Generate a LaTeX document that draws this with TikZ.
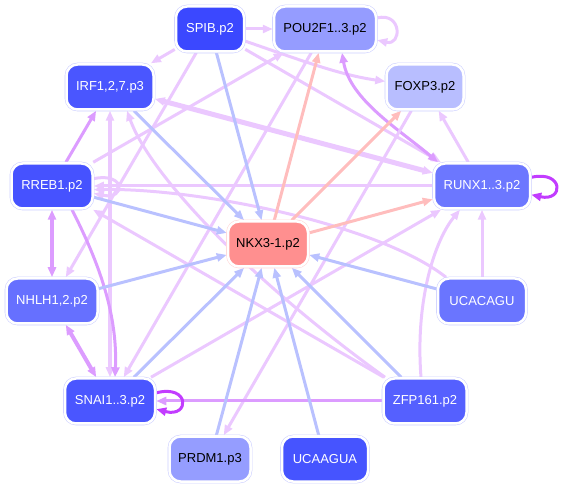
\documentclass[tikz,border=0pt]{standalone}
\usepackage{fontspec}
\setmainfont{Liberation Sans}
\usetikzlibrary{arrows.meta}
\pgfdeclarelayer{bg}
\pgfsetlayers{bg,main}
\definecolor{ndline}{HTML}{CDD0FF}
\definecolor{ndlinep}{HTML}{FFD6D6}
\definecolor{cSPIB}{HTML}{3B48FF}
\definecolor{cPOU}{HTML}{959CFF}
\definecolor{cIRF}{HTML}{4A56FF}
\definecolor{cFOX}{HTML}{B8BEFF}
\definecolor{cRREB}{HTML}{4652FF}
\definecolor{cRUNX}{HTML}{6C77FF}
\definecolor{cNKX}{HTML}{FF8F8F}
\definecolor{cNHLH}{HTML}{6670FF}
\definecolor{cUCAC}{HTML}{6A75FF}
\definecolor{cSNAI}{HTML}{4A56FF}
\definecolor{cZFP}{HTML}{5560FF}
\definecolor{cPRDM}{HTML}{959DFF}
\definecolor{cUCAA}{HTML}{4654FF}
\definecolor{elp}{HTML}{EBC8FF}
\definecolor{emp}{HTML}{DC9CFF}
\definecolor{esp}{HTML}{C23CFF}
\definecolor{elb}{HTML}{B9C1FF}
\definecolor{epk}{HTML}{FFBDBD}
\begin{document}
\begin{tikzpicture}[x=1pt,y=-1pt,
  >={Triangle[length=10pt,width=8pt]},
  nd/.style={rectangle, rounded corners=11pt, minimum height=45pt, inner sep=0pt,
    draw=white, line width=2.5pt, preaction={draw=#1, line width=3.6pt},
    font=\fontsize{13}{15}\selectfont, text=white},
  nd/.default=ndline,
  lp/.style={draw=elp, line width=3pt},
  mp/.style={draw=emp, line width=3pt},
  sp/.style={draw=esp, line width=3pt},
  lb/.style={draw=elb, line width=3pt},
  pk/.style={draw=epk, line width=3pt}]
\useasboundingbox (0,0) rectangle (563,489);

\node[nd, fill=cSPIB, minimum width=68pt] (spib) at (210,29) {SPIB.p2};
\node[nd, fill=cPOU, minimum width=102pt, text=black] (pou) at (325,29) {POU2F1..3.p2};
\node[nd, fill=cIRF, minimum width=87pt] (irf) at (110,87) {IRF1,2,7.p3};
\node[nd, fill=cFOX, minimum width=77pt, text=black] (fox) at (425,87) {FOXP3.p2};
\node[nd, fill=cRREB, minimum width=81pt] (rreb) at (52,186) {RREB1.p2};
\node[nd, fill=cRUNX, minimum width=96pt] (runx) at (482,186) {RUNX1..3.p2};
\node[nd=ndlinep, fill=cNKX, minimum width=80pt, text=black] (nkx) at (268,244) {NKX3-1.p2};
\node[nd, fill=cNHLH, minimum width=91pt] (nhlh) at (52,301) {NHLH1,2.p2};
\node[nd, fill=cUCAC, minimum width=88pt] (ucac) at (482,301) {UCACAGU};
\node[nd, fill=cSNAI, minimum width=90pt] (snai) at (110,401) {SNAI1..3.p2};
\node[nd, fill=cZFP, minimum width=83pt] (zfp) at (425,401) {ZFP161.p2};
\node[nd, fill=cPRDM, minimum width=81pt, text=black] (prdm) at (210,459) {PRDM1.p3};
\node[nd, fill=cUCAA, minimum width=86pt] (ucaa) at (325,459) {UCAAGUA};

\begin{pgfonlayer}{bg}
% light purple
\draw[lp,->] (spib) -- (pou);
\draw[lp,->] (spib) -- (irf);
\draw[lp,->] (spib) .. controls (300,60) and (340,75) .. (fox);
\draw[lp,->] (spib) -- (runx);
\draw[lp,->] (spib) -- (nhlh);
\draw[lp,->] (rreb) -- (pou);
\draw[lp,->] (pou) -- (snai);
\draw[lp,line width=5pt,<->] (irf) -- (runx);
\draw[mp,<->] ([xshift=17pt]pou.south) .. controls (350,100) and (400,130) .. ([xshift=-44pt]runx.north);
\draw[lp,->] (runx) -- (fox);
\draw[lp,->] (pou.12) .. controls (402,12) and (402,46) .. (pou.-12);
\draw[lp,->] (fox) -- (prdm);
\draw[lp,->] (ucac) -- (runx);
\draw[lp,->] (snai) -- (runx);
\draw[lp,->] ([xshift=-4pt]zfp.north) .. controls (415,300) and (435,240) .. ([xshift=-22pt]runx.south);
\draw[lp,->] (runx) -- (rreb);
\draw[lp,->] ([xshift=-36pt]ucac.north) .. controls (380,225) and (200,188) .. (rreb.-5);
\draw[lp,->] (rreb.10) .. controls (126,172) and (126,200) .. (rreb.-10);
\draw[lp,->] (zfp) -- (rreb);
\draw[lp,->] ([xshift=-40pt]zfp.north) .. controls (250,280) and (150,175) .. ([xshift=17pt]irf.south);
\draw[lp,line width=4pt,<->] (irf) -- (snai);
% medium purple
\draw[mp,->] (rreb) -- (irf);
\draw[mp,line width=4pt,<->] (rreb) -- (nhlh);
\draw[mp,->] ([xshift=20pt]rreb.south) .. controls (95,255) and (118,310) .. ([xshift=5pt]snai.north);
\draw[mp,line width=4pt,<->] (nhlh) -- (snai);
\draw[mp,->] (zfp) -- (snai);
% strong purple loops
\draw[sp,->] (runx.10) .. controls (564,170) and (564,202) .. (runx.-10);
\draw[sp,->] (snai.10) .. controls (190,384) and (190,418) .. (snai.-10);
% light blue into NKX
\draw[lb,->] (spib) -- (nkx);
\draw[lb,->] (irf) -- (nkx);
\draw[lb,->] (rreb) -- (nkx);
\draw[lb,->] (nhlh) -- (nkx);
\draw[lb,->] (snai) -- (nkx);
\draw[lb,->] (prdm) -- (nkx);
\draw[lb,->] (ucaa) -- (nkx);
\draw[lb,->] (zfp) -- (nkx);
\draw[lb,->] (ucac) -- (nkx);
% pink from NKX
\draw[pk,->] (nkx) -- (pou);
\draw[pk,->] (nkx) -- (fox);
\draw[pk,->] (nkx) -- (runx);
\end{pgfonlayer}
\end{tikzpicture}
\end{document}
